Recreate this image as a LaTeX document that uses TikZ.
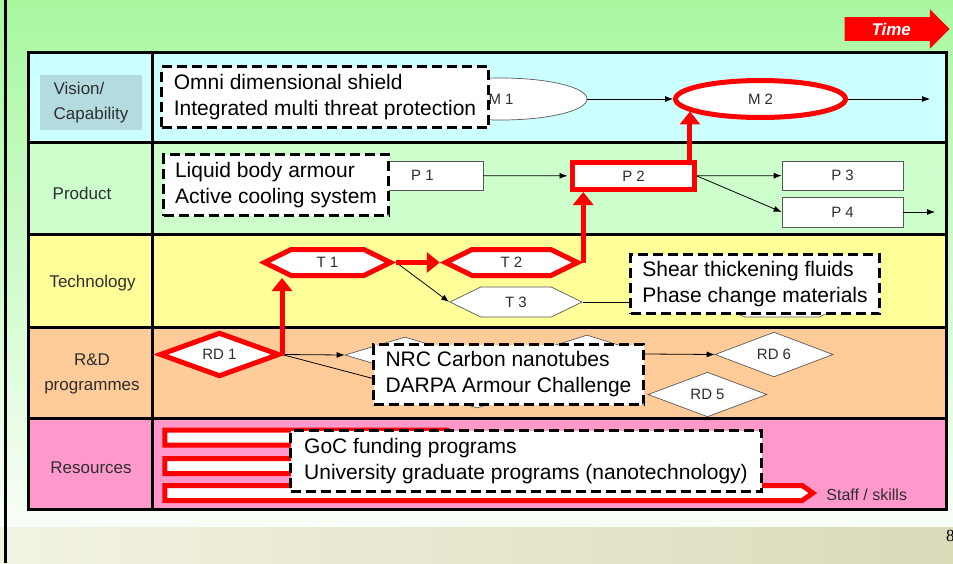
\documentclass[tikz,border=0pt]{standalone}
\usepackage{fontspec}
\setmainfont{Liberation Sans}
\newfontfamily\pagenumfont{Liberation Serif}
\usetikzlibrary{shapes.geometric,shapes.symbols,shapes.arrows,arrows.meta}
\definecolor{slidegreen}{HTML}{A8F8A0}
\definecolor{visioncyan}{HTML}{CCFFFF}
\definecolor{productgreen}{HTML}{CCFFCC}
\definecolor{techyellow}{HTML}{FFFF99}
\definecolor{rdorange}{HTML}{FFCC99}
\definecolor{respink}{HTML}{FF99CC}
\definecolor{labelblue}{HTML}{B4DCE0}
\definecolor{labeltext}{HTML}{2E2E2E}
\definecolor{footbeige}{HTML}{E6E6C4}
\tikzset{
  shapelabel/.style={font=\fontsize{15}{17}\selectfont, text=labeltext, fill=white, inner sep=0pt},
  plainshape/.style={shapelabel, draw=gray!70!black, line width=0.7pt},
  hotshape/.style={shapelabel, draw=red, line width=5pt},
  hexa/.style={signal, signal to=west and east, signal pointer angle=52},
  rowlabel/.style={font=\fontsize{17}{25}\selectfont, text=labeltext, align=center},
  notebox/.style={draw=black, fill=white, line width=3pt, dash pattern=on 10pt off 5pt,
    font=\fontsize{21}{26}\selectfont, align=left, inner sep=0pt},
  flow/.style={-{Latex[length=8pt,width=6pt]}, line width=0.8pt},
  hotflow/.style={-{Triangle[length=13pt,width=20pt]}, draw=red, line width=5pt},
  resbar/.style={signal, signal to=east, signal pointer angle=70, draw=red, line width=5pt,
    fill=white, minimum height=15pt, inner sep=0pt},
  timearrow/.style={single arrow, fill=red, text=white, font=\fontsize{17}{17}\selectfont\bfseries\itshape,
    minimum height=105pt, single arrow head extend=8pt, inner ysep=5.5pt},
}
\begin{document}
\begin{tikzpicture}[x=1pt,y=-1pt]
\useasboundingbox (0,0) rectangle (953,563);
\shade[top color=slidegreen, middle color=slidegreen!50!white, bottom color=slidegreen!8!white] (0,0) rectangle (953,527);
\shade[left color=footbeige!50!white, right color=footbeige!95!black] (0,527) rectangle (953,563);
\draw[line width=3pt] (5.5,0) -- (5.5,563);
\node[timearrow, anchor=tip] (time) at (950,29) {Time};
\node[font=\pagenumfont\fontsize{17}{17}\selectfont, anchor=west, inner sep=0pt] (pagenum) at (946,536) {8};

\fill[visioncyan] (28,52) rectangle (946,142);
\fill[productgreen] (28,142) rectangle (946,234);
\fill[techyellow] (28,234) rectangle (946,327);
\fill[rdorange] (28,327) rectangle (946,418);
\fill[respink] (28,418) rectangle (946,509);
\draw[line width=3pt] (28,52) rectangle (946,509);
\draw[line width=3pt] (152,52) -- (152,509);
\draw[line width=3pt] (28,142) -- (946,142);
\draw[line width=3pt] (28,234) -- (946,234);
\draw[line width=3pt] (28,327) -- (946,327);
\draw[line width=3pt] (28,418) -- (946,418);

\node[rowlabel, align=left, fill=labelblue, minimum width=102pt, minimum height=55pt] (vision) at (91,102.5) {Vision/\\Capability};
\node[rowlabel] (product) at (82,193) {Product};
\node[rowlabel] (technology) at (92.5,283) {Technology};
\node[rowlabel] (rnd) at (92,374) {R\&D\\programmes};
\node[rowlabel] (resources) at (91,468) {Resources};

\node[plainshape, ellipse, minimum width=172pt, minimum height=42pt] (M1) at (501,99) {M 1};
\node[hotshape, ellipse, minimum width=170pt, minimum height=37pt] (M2) at (760.5,99) {M 2};
\coordinate (mend) at (930,99);

\node[plainshape, minimum width=121pt, minimum height=29pt] (P1) at (422.5,175.5) {P 1};
\node[hotshape, minimum width=122pt, minimum height=27pt] (P2) at (633.5,176) {P 2};
\node[plainshape, minimum width=121pt, minimum height=29pt] (P3) at (842.5,175.5) {P 3};
\node[plainshape, minimum width=121pt, minimum height=30pt] (P4) at (842.5,212) {P 4};
\coordinate (pend) at (935,212);

\node[hotshape, hexa, minimum width=126pt, minimum height=26pt] (T1) at (327.5,262.5) {T 1};
\node[hotshape, hexa, minimum width=132pt, minimum height=26pt] (T2) at (511.5,262.5) {T 2};
\node[plainshape, hexa, minimum width=132pt, minimum height=30pt] (T3) at (516,302) {T 3};
\node[plainshape, hexa, minimum width=136pt, minimum height=30pt] (T4) at (782,302) {};

\node[hotshape, diamond, minimum width=120pt, minimum height=32pt] (RD1) at (219.5,354.5) {RD 1};
\node[plainshape, diamond, minimum width=120pt, minimum height=36pt] (RD2) at (405,355) {};
\node[plainshape, diamond, minimum width=120pt, minimum height=36pt] (RD3) at (477,390) {};
\node[plainshape, diamond, minimum width=120pt, minimum height=38pt] (RD4) at (587,354) {};
\node[plainshape, diamond, minimum width=119pt, minimum height=35pt] (RD5) at (707.5,394.5) {RD 5};
\node[plainshape, diamond, minimum width=118pt, minimum height=35pt] (RD6) at (774,354.5) {RD 6};

\node[resbar, minimum width=293pt] (bar1) at (306,437.5) {};
\node[resbar, minimum width=268pt] (bar2) at (293.5,466) {};
\node[resbar, minimum width=648pt] (bar3) at (483.5,493) {};
\node[font=\fontsize{16}{16}\selectfont, text=labeltext, anchor=west, inner sep=0pt] (staff) at ([xshift=9pt,yshift=-2pt]bar3.east) {Staff / skills};

\draw[flow] (M1) -- (M2);
\draw[flow] (M2) -- (mend);
\draw[flow, shorten >=2.5pt] (P1) -- (P2);
\draw[flow] (P2) -- (P3);
\draw[flow] (P2.east) -- (P4.west);
\draw[flow] (P4) -- (pend);
\draw[flow] (T1.east) -- (T3.west);
\draw[flow] (T3.east) -- (T4.west);
\draw[flow] (RD1.east) -- (RD2.west);
\draw[flow] (RD1.east) -- (RD3.west);
\draw[flow] (RD4.east) -- (RD6.west);
\draw[hotflow] (RD1.east) -- (RD1.east |- T1.south);
\draw[hotflow] (T1.east) -- (T2.west);
\draw[hotflow] (T2.east) -- (T2.east |- P2.south);
\draw[hotflow] (M2.190 |- P2.north) -- (M2.190);

\node[notebox, minimum width=327pt, minimum height=61pt] (omni) at (325,97) {Omni dimensional shield\\Integrated multi threat protection};
\node[notebox, minimum width=225pt, minimum height=61pt] (liquid) at (276,185) {Liquid body armour\\Active cooling system};
\node[notebox, minimum width=249pt, minimum height=59pt] (shear) at (755,284) {Shear thickening fluids\\Phase change materials};
\node[notebox, minimum width=270pt, minimum height=60pt] (nrc) at (508.5,374.5) {NRC Carbon nanotubes\\DARPA Armour Challenge};
\node[notebox, minimum width=471pt, minimum height=61pt] (goc) at (526,461) {GoC funding programs\\University graduate programs (nanotechnology)};
\end{tikzpicture}
\end{document}
